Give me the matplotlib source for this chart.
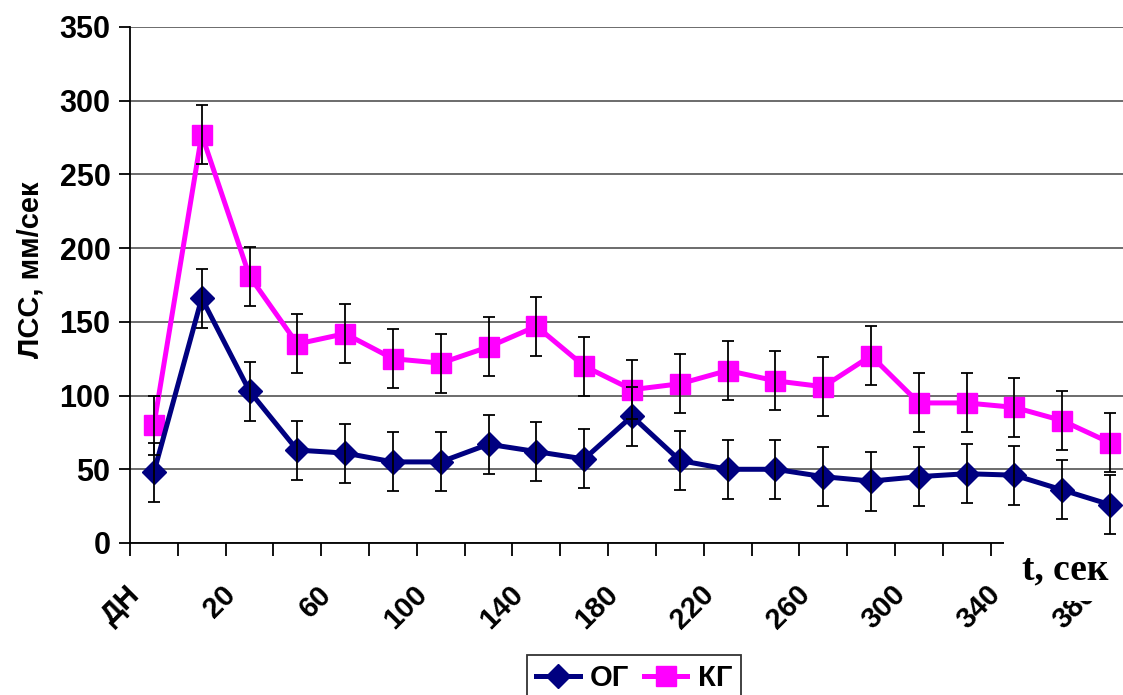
import numpy as np
import matplotlib
matplotlib.use("Agg")
import matplotlib.pyplot as plt
from matplotlib.patches import Rectangle
from matplotlib.transforms import ScaledTranslation

# data
categories = ["ДН"] + [str(v) for v in range(0, 400, 20)]
og_values = [48, 166, 103, 63, 61, 55, 55, 67, 62, 57, 86,
             56, 50, 50, 45, 42, 45, 47, 46, 36, 26]
kg_values = [80, 277, 181, 135, 142, 125, 122, 133, 147, 120, 104,
             108, 117, 110, 106, 127, 95, 95, 92, 83, 68]
og_err = [20] * len(og_values)
kg_err = [20] * len(kg_values)

plt.rcParams['font.family'] = ['Liberation Sans', 'DejaVu Sans']

W, H = 1123, 695
fig = plt.figure(figsize=(W / 100, H / 100), dpi=100)
ax = fig.add_axes([130 / W, (H - 543) / H, 1004 / W, 516 / H])

x = np.arange(len(categories))

ax.plot(x, kg_values, color='#FF00FF', lw=3.6, marker='s', ms=14,
        label='КГ', zorder=3)
ax.plot(x, og_values, color='#000080', lw=3.6, marker='D', ms=12,
        label='ОГ', zorder=3)
ax.errorbar(x, og_values, yerr=og_err, fmt='none', ecolor='black',
            elinewidth=1.3, capsize=4, capthick=1.3, zorder=4)
ax.errorbar(x, kg_values, yerr=kg_err, fmt='none', ecolor='black',
            elinewidth=1.3, capsize=4, capthick=1.3, zorder=4)

ax.set_xlim(-0.5, len(categories) - 0.5)
ax.set_ylim(0, 350)
ax.set_yticks(np.arange(0, 351, 50))
ax.yaxis.grid(True, color='#606060', lw=1.3)
ax.set_axisbelow(True)

for s in ['top', 'right']:
    ax.spines[s].set_visible(False)
for s in ['left', 'bottom']:
    ax.spines[s].set_linewidth(1.3)

ax.tick_params(axis='y', direction='out', length=8, width=1.3,
               labelsize=22, pad=6)
for lab in ax.get_yticklabels():
    lab.set_fontweight('bold')

# tick marks at category boundaries, labels on every other category
ax.set_xticks(np.arange(-0.5, len(categories) - 0.5, 1), minor=True)
ax.tick_params(axis='x', which='minor', direction='out', length=9, width=1.3)
ax.set_xticks(x[::2])
ax.set_xticklabels(categories[::2], rotation=45, ha='right', va='center',
                   rotation_mode='anchor', fontsize=21, fontweight='bold')
ax.tick_params(axis='x', which='major', length=0, pad=34)
shift = ScaledTranslation(-18 / 100, 0, fig.dpi_scale_trans)
for lab in ax.get_xticklabels():
    lab.set_transform(lab.get_transform() + shift)

ax.set_ylabel('ЛСС, мм/сек', fontsize=21, fontweight='bold', labelpad=8)
ax.yaxis.set_label_coords(-0.085, 0.53)

# white box behind the axis title at the right
fig.patches.append(Rectangle((1004 / W, (H - 601) / H), 200 / W, 60 / H,
                             transform=fig.transFigure, facecolor='white',
                             edgecolor='none', zorder=5))
fig.text(1065 / W, (H - 570) / H, 't, сек', fontsize=27, fontweight='bold',
         family=['Liberation Serif', 'DejaVu Serif'], ha='center',
         va='center', zorder=6)

handles, labels = ax.get_legend_handles_labels()
leg = fig.legend(handles[::-1], labels[::-1], loc='upper center',
                 bbox_to_anchor=(634 / W, (H - 655) / H), ncol=2,
                 frameon=True, fancybox=False, edgecolor='black',
                 prop={'size': 21, 'weight': 'bold'}, handlelength=1.5,
                 columnspacing=0.5, handletextpad=0.35, borderpad=0.3,
                 borderaxespad=0)
leg.get_frame().set_linewidth(1.3)

fig.savefig('out.png', dpi=100)
plt.close()
